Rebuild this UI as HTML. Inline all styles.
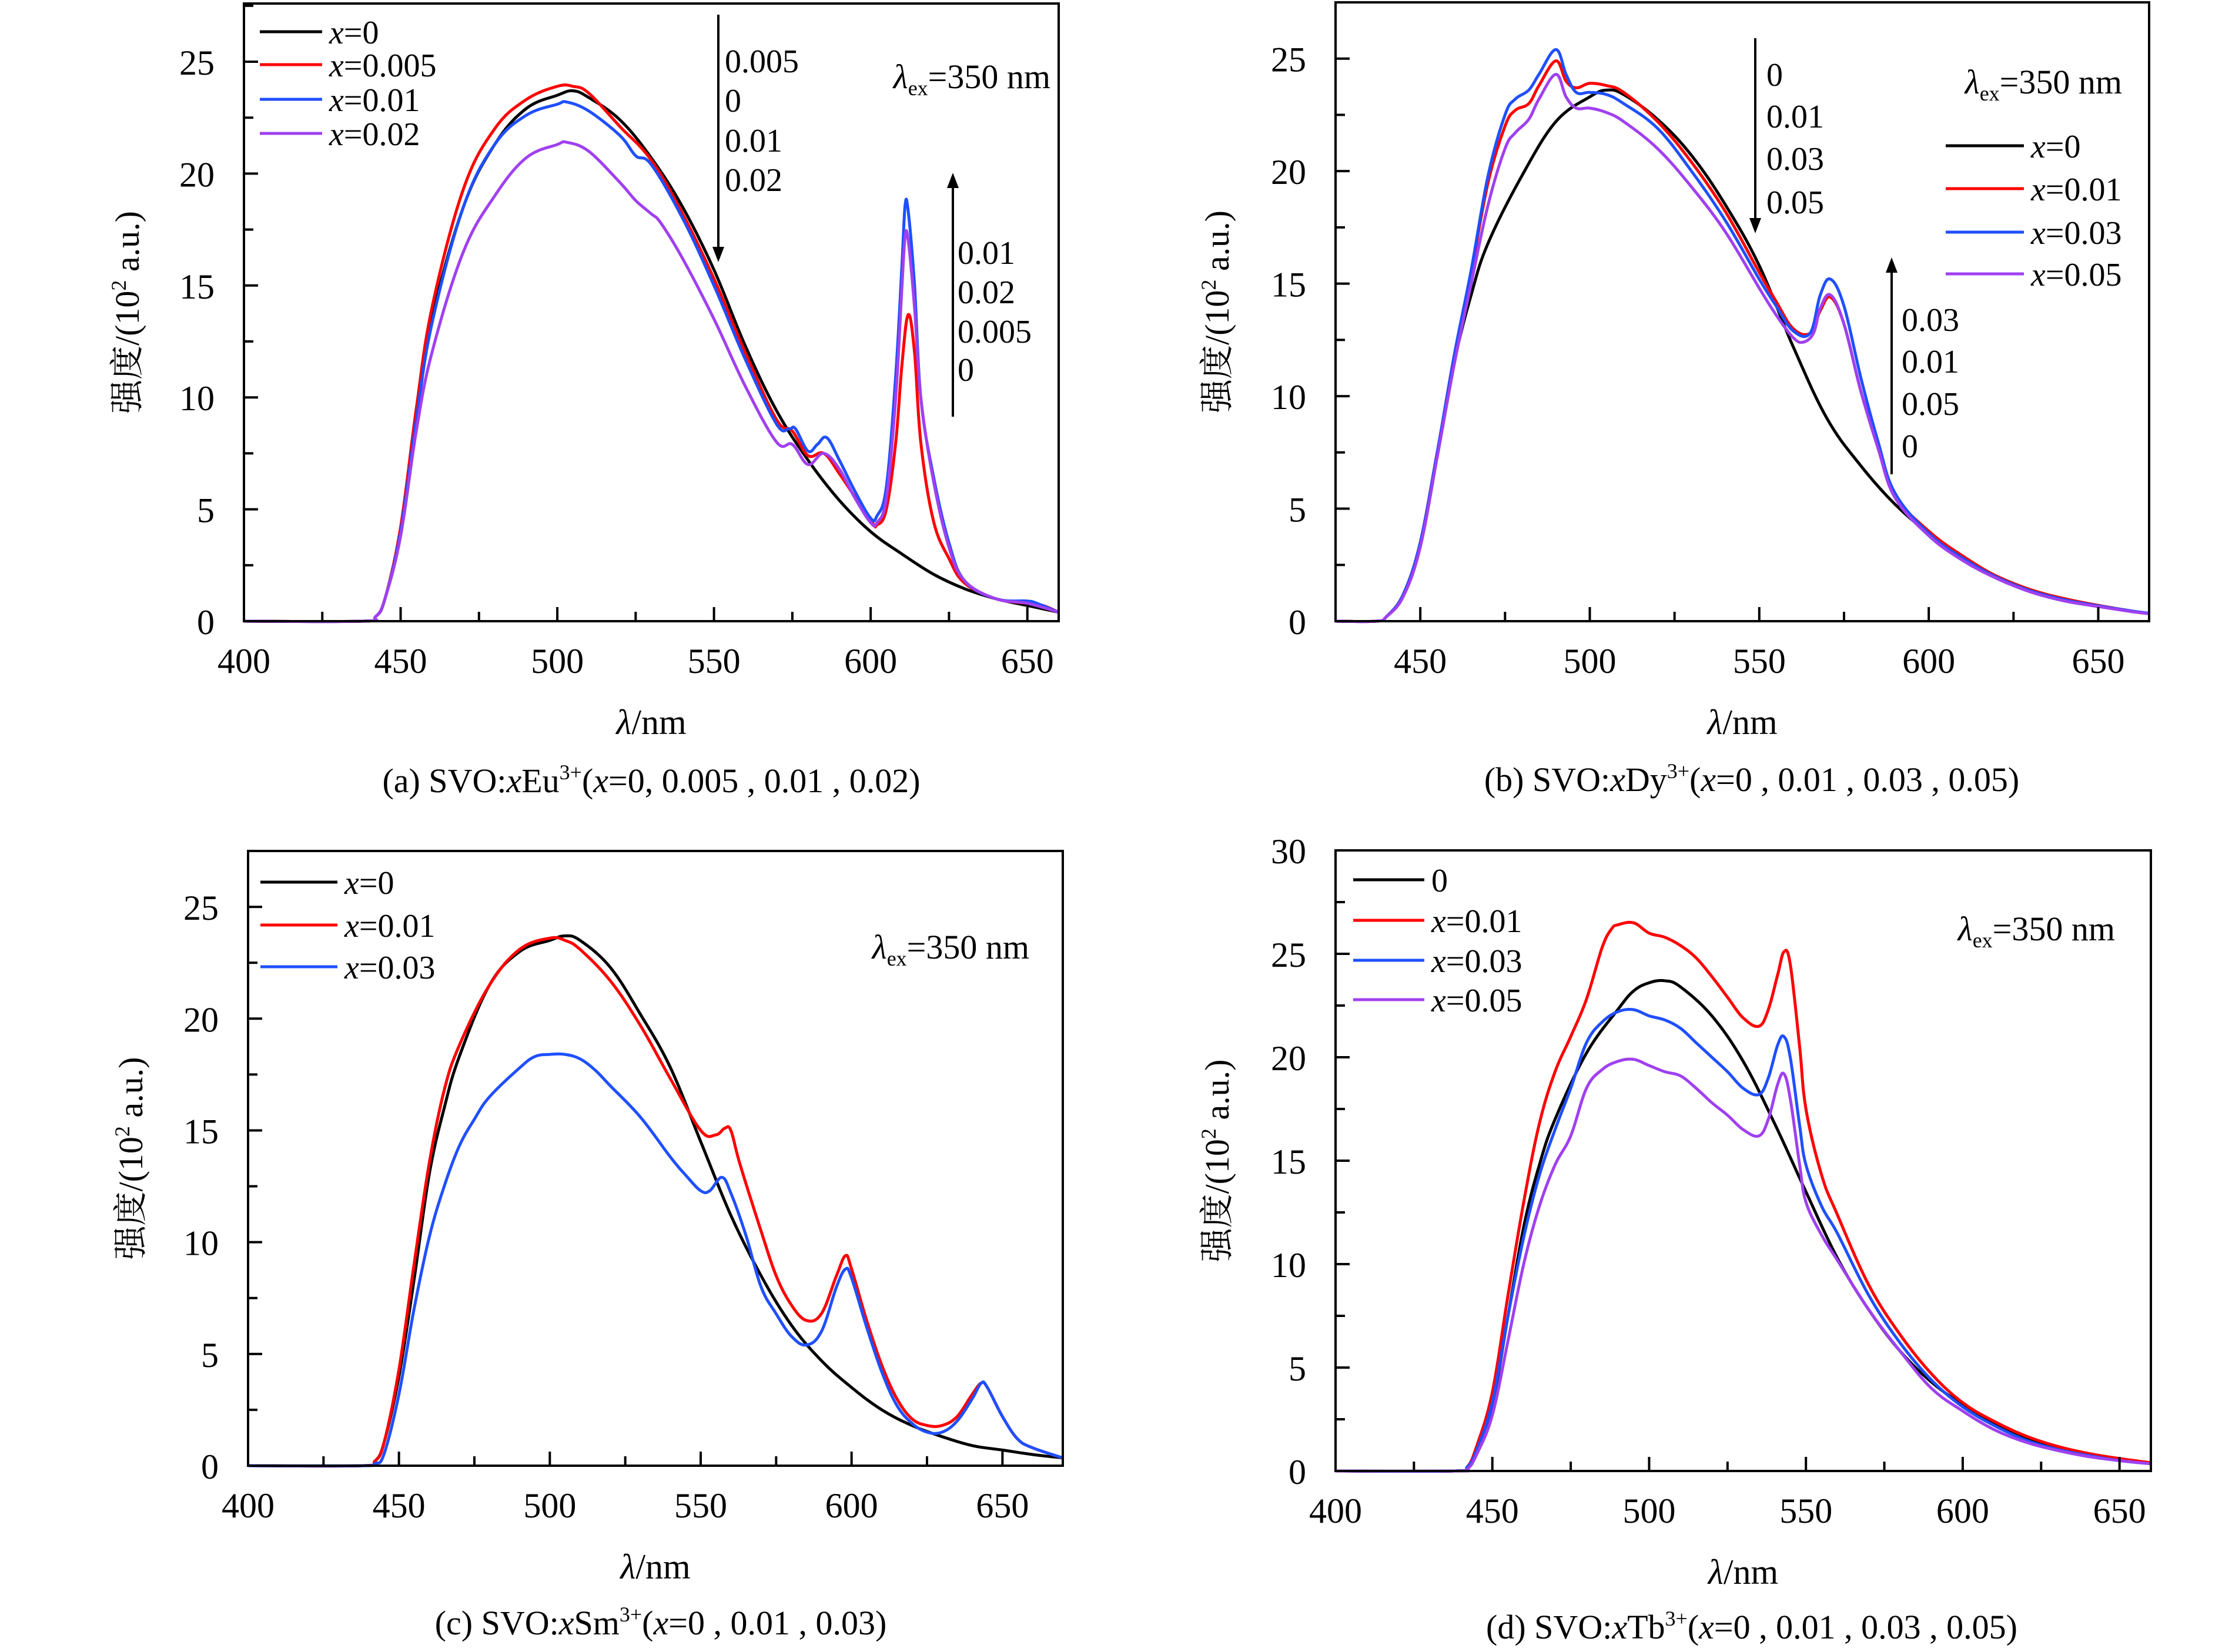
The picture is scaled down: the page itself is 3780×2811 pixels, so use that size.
<!DOCTYPE html>
<html><head><meta charset="utf-8"><style>
html,body{margin:0;padding:0;background:#fff;}
svg{display:block;font-family:"Liberation Serif","Noto Serif CJK SC",serif;}
</style></head><body>
<svg id="fig" width="3780" height="2811" viewBox="0 0 3780 2811" xmlns="http://www.w3.org/2000/svg"></svg>
<script>
// ---------- Panel (a) Eu ----------
const aW0=[400,438,442,445,450,455,460,470,480,490,500,505,510,520,530,540,550,560,570,580,590,600,610,620,630,640,650,660];
const aV0=[0,0,0.2,1,4,9,13.5,18.5,21.3,22.9,23.5,23.7,23.4,22.4,20.7,18.5,15.7,12.3,9.4,7.2,5.4,4.0,3.0,2.1,1.45,1.0,0.7,0.4];
const aW1=[400,438,442,445,450,455,460,470,480,490,500,505,510,520,530,540,550,560,570,575,580,585,590,600,602,605,608,610,612,614,616,620,625,630,640,650,655,660];
const aV1=[0,0,0.2,1,4.2,9.5,14,19.3,22,23.3,23.9,23.9,23.6,22.1,20.6,18.2,15.3,12,9,8.5,7.4,7.5,6.6,4.5,4.3,5,8,11.5,13.7,12,8,4.5,2.8,1.7,1.0,0.8,0.7,0.4];
const aW2=[400,438,442,445,450,455,460,470,480,490,500,503,510,520,525,530,540,550,560,570,574,576,580,583,586,590,595,600,602,605,608,610,611,612,614,616,620,625,630,640,650,653,660];
const aV2=[0,0,0.2,1,4,9,13.3,18.5,21.3,22.6,23.1,23.2,22.8,21.7,20.8,20.4,18.0,15.0,11.7,8.8,8.6,8.6,7.6,7.9,8.2,7.2,5.8,4.6,4.7,6,11,16,18.6,18.3,15,10,6.5,3.5,1.8,1.0,0.9,0.8,0.4];
const aW3=[400,438,442,445,450,455,460,470,480,490,500,503,510,520,525,530,533,540,550,560,570,575,580,585,590,595,600,602,605,608,610,611,612,614,616,620,625,630,640,650,660];
const aV3=[0,0,0.2,1,3.8,8.5,12,16.5,19.0,20.7,21.3,21.4,21.0,19.6,18.8,18.2,17.8,16.2,13.5,10.5,8.0,7.9,7.0,7.5,6.8,5.5,4.4,4.4,5.5,10,15,17.2,17,14,10,6.3,3.3,1.8,1.0,0.8,0.4];
// ---------- Panel (b) Dy ----------
const bW0=[425,437,440,445,450,455,460,465,470,480,490,500,505,510,520,530,540,550,560,570,580,590,600,610,620,630,640,650,660,665];
const bV0=[0,0,0.2,1.2,3.5,7.5,11.5,14.5,16.8,19.8,22.2,23.3,23.6,23.4,22.3,20.7,18.5,15.8,12.2,9.0,6.9,5.2,3.9,2.8,2.0,1.4,1.0,0.7,0.45,0.35];
const bW1=[425,437,440,445,450,455,460,465,470,475,478,482,485,490,493,496,500,505,510,520,530,540,550,555,560,565,568,571,575,580,585,590,600,610,620,630,640,650,660,665];
const bV1=[0,0,0.2,1.2,3.5,7.5,11.8,15.5,19.5,22,22.7,23,23.8,24.9,24.0,23.7,23.9,23.8,23.5,22.2,20.4,18.2,15.5,14.2,13.0,12.8,13.8,14.4,13.2,10.2,7.8,5.6,4.0,2.9,2.0,1.4,1.0,0.7,0.45,0.35];
const bW2=[425,437,440,445,450,455,460,465,470,475,478,482,485,490,493,496,500,505,510,520,530,540,550,555,560,565,568,571,575,580,585,590,600,610,620,630,640,650,660,665];
const bV2=[0,0,0.2,1.2,3.5,7.5,11.8,15.6,19.8,22.5,23.2,23.6,24.3,25.4,24.3,23.5,23.5,23.4,23.0,21.9,20.0,17.8,15.2,14.0,12.9,12.8,14.5,15.2,14.0,10.8,8.0,5.7,3.9,2.8,1.95,1.35,0.95,0.68,0.45,0.35];
const bW3=[425,437,440,445,450,455,460,465,470,475,478,482,485,490,493,496,500,505,510,520,530,540,550,555,560,563,566,568,571,575,580,585,590,600,610,620,630,640,650,660,665];
const bV3=[0,0,0.2,1.1,3.3,7.3,11.4,15.0,18.5,21.0,21.7,22.3,23.2,24.3,23.3,22.8,22.8,22.6,22.2,21.0,19.3,17.3,14.8,13.6,12.6,12.4,12.8,13.9,14.5,13.2,10.2,7.7,5.5,3.8,2.7,1.9,1.3,0.9,0.65,0.42,0.33];
// ---------- Panel (c) Sm ----------
const cW0=[400,438,442,445,450,455,460,465,470,480,490,500,505,510,520,530,540,550,560,570,580,590,600,610,620,630,640,650,660,670];
const cV0=[0,0,0.2,1,4,8.3,13,16,18.3,21.5,23.0,23.5,23.7,23.5,22.3,20.2,17.8,14.5,11.2,8.5,6.3,4.7,3.5,2.5,1.8,1.3,0.9,0.7,0.5,0.35];
const cW1=[400,438,442,445,450,455,460,465,470,480,490,500,505,510,520,530,540,550,555,558,560,563,570,575,580,585,590,595,598,600,605,610,615,620,625,630,635,640,643,645,650,655,660,670];
const cV1=[0,0,0.2,1,4.3,9,13.5,16.8,18.8,21.5,23.1,23.6,23.5,23.1,21.7,19.7,17.3,15,14.8,15.1,15.0,13.5,10.5,8.5,7.2,6.5,6.8,8.5,9.4,8.8,6.5,4.5,3,2.1,1.8,1.8,2.2,3.2,3.7,3.5,2.2,1.2,0.8,0.35];
const cW2=[400,438,442,445,450,455,460,465,470,475,480,490,495,500,505,510,515,520,530,540,545,550,553,557,560,565,570,575,580,585,590,595,598,600,605,610,615,620,625,630,635,640,643,645,650,655,660,670];
const cV2=[0,0,0.1,0.5,3.2,7,10.2,12.5,14.3,15.5,16.5,17.8,18.3,18.4,18.4,18.2,17.7,17.0,15.6,13.8,13.0,12.3,12.3,12.9,12.2,10.3,8.0,6.8,5.8,5.4,6.0,8.0,8.8,8.4,6.2,4.2,2.7,1.9,1.5,1.5,2.0,3.0,3.7,3.5,2.2,1.2,0.8,0.35];
// ---------- Panel (d) Tb ----------
const dW0=[400,438,442,445,450,455,460,465,470,480,490,495,500,505,510,520,530,540,550,560,570,580,590,600,610,620,630,640,650,660];
const dV0=[0,0,0.2,1,3.2,7.5,11.8,14.8,17,20.2,22.3,23.2,23.6,23.7,23.4,22,19.8,16.8,13.5,10.3,7.8,5.8,4.3,3.2,2.3,1.6,1.1,0.8,0.55,0.4];
const dW1=[400,438,442,445,450,455,460,465,470,475,480,485,488,490,495,500,505,510,515,520,525,530,535,538,541,543,545,548,550,555,560,570,580,590,600,610,620,630,640,650,660];
const dV1=[0,0,0.2,1.2,3.8,8.5,13,16.8,19.3,21,22.8,25.3,26.2,26.4,26.5,26,25.8,25.4,24.8,23.9,22.9,21.9,21.5,22.3,24.0,25.1,24.5,20.5,17.5,14.3,12.4,9.0,6.6,4.7,3.3,2.4,1.7,1.2,0.85,0.6,0.4];
const dW2=[400,438,442,445,450,455,460,465,470,475,480,485,490,495,500,505,510,515,520,525,530,535,538,541,543,545,548,550,555,560,570,580,590,600,610,620,630,640,650,660];
const dV2=[0,0,0.2,1,3.3,7.5,11.3,14.3,16.5,18.5,20.7,21.7,22.2,22.3,22.0,21.8,21.4,20.7,20.0,19.3,18.5,18.2,19.0,20.6,21.0,20.0,16.7,14.8,12.8,11.5,8.5,6.2,4.4,3.1,2.2,1.5,1.05,0.75,0.5,0.35];
const dW3=[400,438,442,445,450,455,460,465,470,475,480,485,490,495,500,505,510,515,520,525,530,535,538,541,543,545,548,550,555,560,570,580,590,600,610,620,630,640,650,660];
const dV3=[0,0,0.1,0.8,2.7,6.3,10,12.8,14.8,16.2,18.5,19.4,19.8,19.9,19.6,19.3,19.1,18.5,17.8,17.2,16.5,16.2,17.0,18.7,19.2,18.0,14.8,13.0,11.4,10.2,7.8,5.8,4.0,2.9,2.0,1.4,1.0,0.7,0.5,0.35];

const NS="http://www.w3.org/2000/svg";
const svg=document.getElementById('fig');
function mk(tag,attrs,parent){const e=document.createElementNS(NS,tag);for(const k in attrs)e.setAttribute(k,attrs[k]);(parent||svg).appendChild(e);return e;}
const COL=['#000000','#ff0000','#1f4fff','#a040f0'];

function smoothPath(pts){
  let d='M'+pts[0][0].toFixed(1)+' '+pts[0][1].toFixed(1);
  for(let i=0;i<pts.length-1;i++){
    const p0=pts[Math.max(0,i-1)],p1=pts[i],p2=pts[i+1],p3=pts[Math.min(pts.length-1,i+2)];
    const t=0.18;
    const c1x=p1[0]+(p2[0]-p0[0])*t,c1y=p1[1]+(p2[1]-p0[1])*t;
    const c2x=p2[0]-(p3[0]-p1[0])*t,c2y=p2[1]-(p3[1]-p1[1])*t;
    d+='C'+c1x.toFixed(1)+' '+c1y.toFixed(1)+' '+c2x.toFixed(1)+' '+c2y.toFixed(1)+' '+p2[0].toFixed(1)+' '+p2[1].toFixed(1);
  }
  return d;
}

function panel(p){
  const g=mk('g',{});
  
  
  const X=v=>p.L+(v-p.x0)/(p.x1-p.x0)*(p.R-p.L);
  const Y=v=>p.B-(v-p.y0)/(p.y1-p.y0)*(p.B-p.T);
  p.series.forEach((s,i)=>{
    const pts=s.w.map((w,k)=>[X(w),Y(s.v[k])]);
    const pl=mk('path',{d:smoothPath(pts),fill:'none',stroke:s.c,'stroke-width':5,'stroke-linejoin':'round'},g);
    
    
  });
  const fr=mk('rect',{x:p.L,y:p.T,width:p.R-p.L,height:p.B-p.T,fill:'none',stroke:'#000','stroke-width':4},g);
  
  
  for(let v=400;v<=p.x1+0.01;v+=25){
    if(v<p.x0-0.01)continue;
    const major=(v%50===0);
    mk('line',{x1:X(v),x2:X(v),y1:p.B,y2:p.B-(major?24:16),stroke:'#000','stroke-width':4},g);
    if(major){const t=mk('text',{x:X(v),y:p.B+88,'font-size':60,'text-anchor':'middle'},g);t.textContent=v;
      }
  }
  for(let v=0;v<=p.y1+0.01;v+=2.5){
    const major=(v%5===0);
    mk('line',{x1:p.L,x2:p.L+(major?24:16),y1:Y(v),y2:Y(v),stroke:'#000','stroke-width':4},g);
    if(major){const t=mk('text',{x:p.L-50,y:Y(v)+22,'font-size':60,'text-anchor':'end'},g);t.textContent=v;
      }
  }
  const yt=mk('text',{x:0,y:0,'font-size':58,'text-anchor':'middle',transform:`translate(${p.ylx},${(p.T+p.B)/2}) rotate(-90)`},g);
  yt.innerHTML='强度/(10<tspan font-size="36" dy="-22">2</tspan><tspan dy="22"> a.u.)</tspan>';
  
  
  const xt=mk('text',{x:(p.L+p.R)/2,y:p.B+192,'font-size':60,'text-anchor':'middle'},g);
  xt.innerHTML='<tspan font-style="italic">λ</tspan>/nm';
  
  
  const cp=mk('text',{x:p.capx,y:p.capy,'font-size':58,'text-anchor':'middle'},g);
  cp.innerHTML=p.cap;
  
  
  p.series.forEach((s,i)=>{
    const ly=p.leg.y[i];
    mk('line',{x1:p.leg.x1,x2:p.leg.x2,y1:ly,y2:ly,stroke:s.c,'stroke-width':5},g);
    const t=mk('text',{x:p.leg.x2+12,y:ly+20,'font-size':56},g);
    t.innerHTML=s.lab;
    
    
  });
  const le=mk('text',{x:p.lex,y:p.ley,'font-size':58,'text-anchor':'end'},g);
  le.innerHTML='<tspan font-style="italic">λ</tspan><tspan font-size="36" dy="12">ex</tspan><tspan dy="-12">=350 nm</tspan>';
  
  
  (p.arrows||[]).forEach(a=>{
    const dir=a.y2>a.y1?1:-1;
    mk('line',{x1:a.x,x2:a.x,y1:a.y1,y2:a.y2-dir*18,stroke:'#000','stroke-width':4},g);
    const ah=mk('polygon',{points:`${a.x},${a.y2} ${a.x-10},${a.y2-dir*26} ${a.x+10},${a.y2-dir*26}`,fill:'#000'},g);
    
    
    a.labs.forEach((l,k)=>{const t=mk('text',{x:a.lx,y:a.ly[k]+20,'font-size':56},g);t.textContent=l;
      });
  });
}
const xi='<tspan font-style="italic">x</tspan>';
panel({id:'a',L:415,R:1801,T:6,B:1057,x0:400,x1:660,y0:0,y1:27.6,ylx:236,capx:1108,capy:1348,
  cap:'(a) SVO:'+xi+'Eu<tspan font-size="36" dy="-22">3+</tspan><tspan dy="22">(</tspan>'+xi+'=0, 0.005 , 0.01 , 0.02)',
  series:[{w:aW0,v:aV0,c:COL[0],n:'x0',lab:xi+'=0'},{w:aW1,v:aV1,c:COL[1],n:'x0005',lab:xi+'=0.005'},{w:aW2,v:aV2,c:COL[2],n:'x001',lab:xi+'=0.01'},{w:aW3,v:aV3,c:COL[3],n:'x002',lab:xi+'=0.02'}],
  leg:{x1:442,x2:548,y:[54,110,169,227]},lex:1787,ley:150,
  arrows:[{x:1222,y1:25,y2:446,lx:1233,ly:[103,170,238,305],labs:['0.005','0','0.01','0.02']},
          {x:1621,y1:709,y2:294,lx:1629,ly:[429,496,563,628],labs:['0.01','0.02','0.005','0']}]});
panel({id:'b',L:2272,R:3656,T:4,B:1057,x0:425,x1:665,y0:0,y1:27.5,ylx:2090,capx:2980,capy:1346,
  cap:'(b) SVO:'+xi+'Dy<tspan font-size="36" dy="-22">3+</tspan><tspan dy="22">(</tspan>'+xi+'=0 , 0.01 , 0.03 , 0.05)',
  series:[{w:bW0,v:bV0,c:COL[0],n:'x0',lab:xi+'=0'},{w:bW1,v:bV1,c:COL[1],n:'x001',lab:xi+'=0.01'},{w:bW2,v:bV2,c:COL[2],n:'x003',lab:xi+'=0.03'},{w:bW3,v:bV3,c:COL[3],n:'x005',lab:xi+'=0.05'}],
  leg:{x1:3310,x2:3443,y:[248,321,395,466]},lex:3610,ley:159,
  arrows:[{x:2986,y1:65,y2:397,lx:3005,ly:[126,197,269,343],labs:['0','0.01','0.03','0.05']},
          {x:3218,y1:807,y2:438,lx:3235,ly:[543,614,686,758],labs:['0.03','0.01','0.05','0']}]});
panel({id:'c',L:422,R:1808,T:1448,B:2494,x0:400,x1:670,y0:0,y1:27.5,ylx:242,capx:1124,capy:2781,
  cap:'(c) SVO:'+xi+'Sm<tspan font-size="36" dy="-22">3+</tspan><tspan dy="22">(</tspan>'+xi+'=0 , 0.01 , 0.03)',
  series:[{w:cW0,v:cV0,c:COL[0],n:'x0',lab:xi+'=0'},{w:cW1,v:cV1,c:COL[1],n:'x001',lab:xi+'=0.01'},{w:cW2,v:cV2,c:COL[2],n:'x003',lab:xi+'=0.03'}],
  leg:{x1:443,x2:574,y:[1501,1574,1645]},lex:1751,ley:1631});
panel({id:'d',L:2272,R:3659,T:1447,B:2503,x0:400,x1:660,y0:0,y1:30,ylx:2090,capx:2980,capy:2788,
  cap:'(d) SVO:'+xi+'Tb<tspan font-size="36" dy="-22">3+</tspan><tspan dy="22">(</tspan>'+xi+'=0 , 0.01 , 0.03 , 0.05)',
  series:[{w:dW0,v:dV0,c:COL[0],n:'x0',lab:'0'},{w:dW1,v:dV1,c:COL[1],n:'x001',lab:xi+'=0.01'},{w:dW2,v:dV2,c:COL[2],n:'x003',lab:xi+'=0.03'},{w:dW3,v:dV3,c:COL[3],n:'x005',lab:xi+'=0.05'}],
  leg:{x1:2302,x2:2423,y:[1497,1566,1634,1701]},lex:3598,ley:1600});
</script>
</body></html>
